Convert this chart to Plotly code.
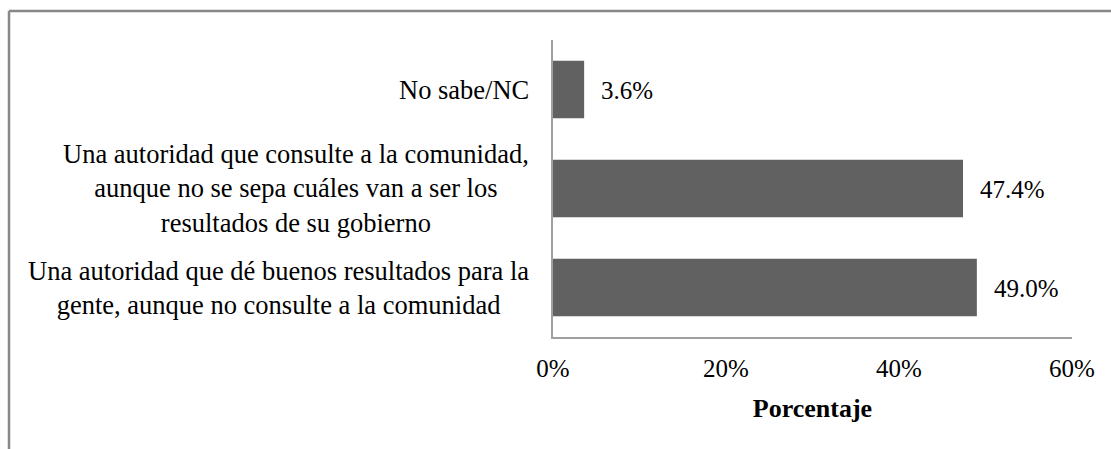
import plotly.graph_objects as go

categories = [
    "Una autoridad que dé buenos resultados para la<br>gente, aunque no consulte a la comunidad",
    "Una autoridad que consulte a la comunidad,<br>aunque no se sepa cuáles van a ser los<br>resultados de su gobierno",
    "No sabe/NC",
]
values = [0.490, 0.474, 0.036]
value_labels = ["49.0%", "47.4%", "3.6%"]
tick_vals = [0, 0.2, 0.4, 0.6]
tick_text = ["0%", "20%", "40%", "60%"]
axis_title = "Porcentaje"

FONT = "Liberation Serif"

fig = go.Figure()
fig.add_trace(go.Bar(
    x=values, y=list(range(len(categories))), orientation="h",
    marker=dict(color="#616161", line=dict(width=0)),
    hoverinfo="skip",
))

annotations = []
for i, (cat, v, lab) in enumerate(zip(categories, values, value_labels)):
    annotations.append(dict(
        x=0, xref="paper", y=i, yref="y", text=cat, showarrow=False,
        xanchor="right", yanchor="middle", align="center", xshift=-22,
        font=dict(family=FONT, size=26.5, color="#000000"),
    ))
    annotations.append(dict(
        x=v, xref="x", y=i, yref="y", text=lab, showarrow=False,
        xanchor="left", yanchor="middle", xshift=15, yshift=-1,
        font=dict(family=FONT, size=25, color="#000000"),
    ))

fig.update_layout(
    width=1111, height=449,
    margin=dict(l=553, r=39, t=40, b=112),
    paper_bgcolor="white", plot_bgcolor="white",
    showlegend=False,
    bargap=0.42,
    font=dict(family=FONT, size=25, color="#000000"),
    annotations=annotations,
    xaxis=dict(
        range=[0, 0.6], tickvals=tick_vals, ticktext=tick_text,
        showgrid=False, zeroline=False, showline=True,
        linecolor="#a0a0a0", linewidth=1.5, ticks="",
        ticklabelstandoff=8,
        tickfont=dict(family=FONT, size=25, color="#000000"),
        title=dict(text="<b>" + axis_title + "</b>", standoff=18,
                   font=dict(family=FONT, size=26, color="#000000")),
        fixedrange=True,
    ),
    yaxis=dict(
        range=[-0.5, len(categories) - 0.5], showticklabels=False,
        showgrid=False, zeroline=False, showline=True,
        linecolor="#a0a0a0", linewidth=1.5, ticks="",
        fixedrange=True,
    ),
    shapes=[
        dict(type="line", xref="paper", yref="paper",
             x0=(9 - 553) / 519, x1=(1115 - 553) / 519,
             y0=(337 - 11) / 297, y1=(337 - 11) / 297,
             line=dict(color="#888888", width=2.5)),
        dict(type="line", xref="paper", yref="paper",
             x0=(9 - 553) / 519, x1=(9 - 553) / 519,
             y0=(337 - 11) / 297, y1=(337 - 455) / 297,
             line=dict(color="#888888", width=2.5)),
    ],
)

fig.write_html(
    "out.html",
    config={"displayModeBar": False},
    post_script="document.body.style.margin='0';document.body.style.overflow='hidden';",
)
